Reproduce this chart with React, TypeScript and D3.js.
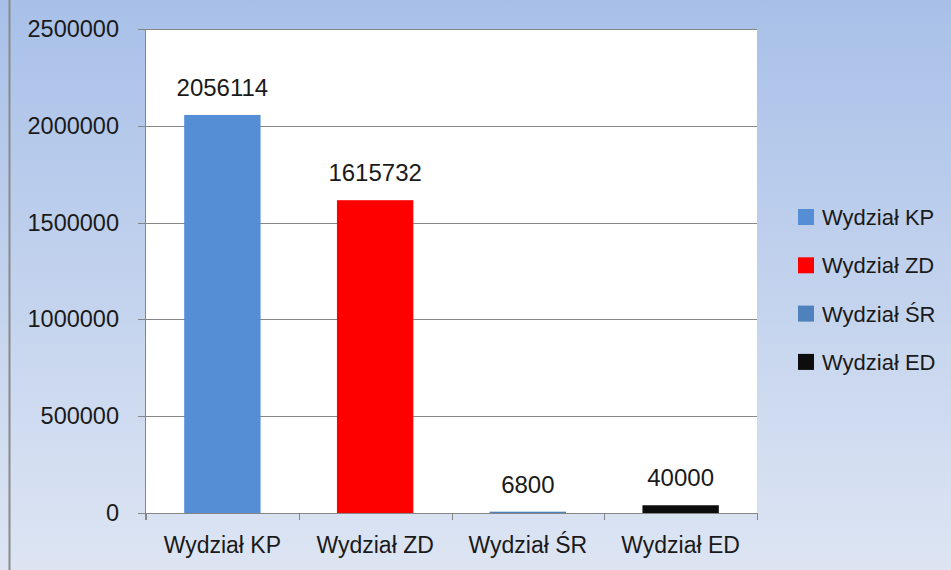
import React from 'react';
import * as d3 from 'd3';

const categories = ['Wydział KP', 'Wydział ZD', 'Wydział ŚR', 'Wydział ED'];
const values = [2056114, 1615732, 6800, 40000];
const colors = ['#558ed5', '#ff0000', '#4f81bd', '#0d0d0d'];
const yTicks = [0, 500000, 1000000, 1500000, 2000000, 2500000];

const W = 951;
const H = 570;
const FONT = "'Liberation Sans', 'DejaVu Sans', sans-serif";

export default function App() {
  const plot = { left: 146, right: 757, top: 29, bottom: 513 };

  const x = d3
    .scaleBand<string>()
    .domain(categories)
    .range([plot.left, plot.right])
    .paddingInner(0.5)
    .paddingOuter(0.25);

  const y = d3.scaleLinear().domain([0, 2500000]).range([plot.bottom, plot.top]);

  const step = x.step();
  const boundaries = d3.range(categories.length + 1).map((i) => plot.left + i * step);

  return (
    <div style={{ position: 'absolute', left: 0, top: 0 }}>
      <svg width={W} height={H} style={{ display: 'block' }}>
        <defs>
          <linearGradient id="bg" x1="0" y1="0" x2="0" y2="1">
            <stop offset="0" stopColor="#a8c0e8" />
            <stop offset="1" stopColor="#dde5f3" />
          </linearGradient>
        </defs>
        <rect x={0} y={0} width={W} height={H} fill="url(#bg)" />
        <line x1={9.5} x2={9.5} y1={0} y2={H} stroke="#8a8a8a" strokeWidth={2} />

        {/* plot area */}
        <rect
          x={plot.left}
          y={plot.top}
          width={plot.right - plot.left}
          height={plot.bottom - plot.top}
          fill="#ffffff"
        />

        {/* gridlines + y labels */}
        {yTicks.map((t) => (
          <g key={t}>
            <line
              x1={138}
              x2={plot.right}
              y1={Math.round(y(t)) + 0.5}
              y2={Math.round(y(t)) + 0.5}
              stroke="#868686"
              strokeWidth={1}
            />
            <text
              x={119}
              y={y(t) + 8}
              textAnchor="end"
              fontFamily={FONT}
              fontSize={23.5}
              fill="#1a1a1a"
            >
              {t}
            </text>
          </g>
        ))}

        {/* y axis line */}
        <line x1={145.5} x2={145.5} y1={plot.top} y2={520} stroke="#868686" strokeWidth={1} />

        {/* x category ticks */}
        {boundaries.map((b, i) => (
          <line
            key={i}
            x1={Math.round(b) + 0.5}
            x2={Math.round(b) + 0.5}
            y1={plot.bottom}
            y2={520}
            stroke="#868686"
          />
        ))}

        {/* bars */}
        {values.map((v, i) => (
          <rect
            key={categories[i]}
            x={x(categories[i])!}
            y={y(v)}
            width={x.bandwidth()}
            height={plot.bottom - y(v)}
            fill={colors[i]}
          />
        ))}

        {/* value labels */}
        {values.map((v, i) => (
          <text
            key={'v' + i}
            x={x(categories[i])! + x.bandwidth() / 2}
            y={y(v) - 19}
            textAnchor="middle"
            fontFamily={FONT}
            fontSize={24}
            fill="#1a1a1a"
          >
            {v}
          </text>
        ))}

        {/* category labels */}
        {categories.map((c) => (
          <text
            key={c}
            x={x(c)! + x.bandwidth() / 2}
            y={553}
            textAnchor="middle"
            fontFamily={FONT}
            fontSize={23}
            fill="#1a1a1a"
          >
            {c}
          </text>
        ))}

        {/* legend */}
        {categories.map((c, i) => (
          <g key={'l' + c} transform={`translate(798, ${217 + i * 48.3})`}>
            <rect x={0} y={-8} width={16} height={16} fill={colors[i]} />
            <text x={24} y={8} fontFamily={FONT} fontSize={22} fill="#1a1a1a">
              {c}
            </text>
          </g>
        ))}
      </svg>
    </div>
  );
}
